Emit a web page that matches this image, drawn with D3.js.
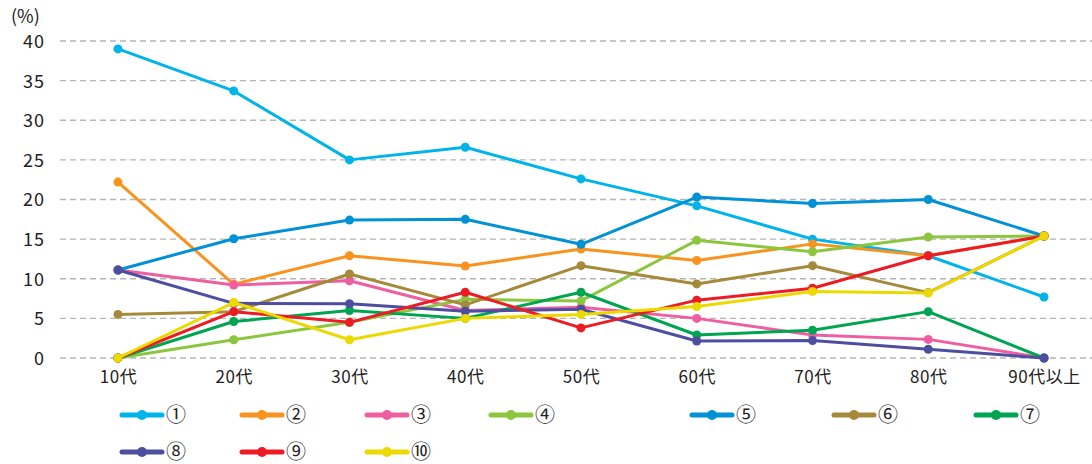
<!DOCTYPE html>
<html>
<head>
<meta charset="utf-8">
<script src="https://cdn.jsdelivr.net/npm/d3@7"></script>
<style>
  body { margin: 0; background: #fff; }
  svg text { font-family: "Noto Sans CJK JP", "Noto Sans", sans-serif; fill: #222; }
</style>
</head>
<body>
<div id="chart"></div>
<script>
// categories and values
const ages = ["10代", "20代", "30代", "40代", "50代", "60代", "70代", "80代", "90代以上"];
const yTicks = [0, 5, 10, 15, 20, 25, 30, 35, 40];
const seriesNames = ["①", "②", "③", "④", "⑤", "⑥", "⑦", "⑧", "⑨", "⑩"];
const seriesColors = ["#00b4ea", "#f7931e", "#ef5ea0", "#8cc63f", "#0091d6", "#a6893a", "#00a551", "#4d4e9f", "#ed1c24", "#ecd900"];

const s1 = [39.0, 33.7, 25.0, 26.6, 22.6, 19.2, 15.0, 12.9, 7.7];
const s2 = [22.2, 9.3, 12.9, 11.6, 13.75, 12.3, 14.4, 12.9, 15.4];
const s3 = [11.1, 9.2, 9.75, 6.0, 6.4, 5.0, 2.9, 2.35, 0];
const s4 = [0, 2.3, 4.5, 7.4, 7.2, 14.85, 13.4, 15.27, 15.4];
const s5 = [11.1, 15.05, 17.4, 17.5, 14.35, 20.3, 19.5, 20.0, 15.4];
const s6 = [5.5, 5.85, 10.6, 6.7, 11.65, 9.35, 11.65, 8.25, 15.4];
const s7 = [0, 4.6, 6.0, 5.0, 8.3, 2.9, 3.5, 5.85, 0];
const s8 = [11.1, 6.9, 6.85, 5.9, 6.15, 2.15, 2.2, 1.1, 0];
const s9 = [0, 5.85, 4.5, 8.3, 3.8, 7.3, 8.8, 12.9, 15.4];
const s10 = [0, 7.0, 2.3, 5.0, 5.5, 6.5, 8.4, 8.2, 15.4];
const seriesValues = [s1, s2, s3, s4, s5, s6, s7, s8, s9, s10];

const width = 1092, height = 464;
const svg = d3.select("#chart").append("svg")
  .attr("width", width)
  .attr("height", height);

const xScale = d3.scalePoint().domain(ages).range([118, 1044]);
const yScale = d3.scaleLinear().domain([0, 40]).range([358, 41]);

// grid
svg.append("g").selectAll("line")
  .data(yTicks)
  .enter().append("line")
  .attr("x1", 60).attr("x2", width)
  .attr("y1", d => yScale(d)).attr("y2", d => yScale(d))
  .attr("stroke", "#b5b5b5")
  .attr("stroke-width", 1.3)
  .attr("stroke-dasharray", "6,4");

// y axis labels
const yAxis = d3.axisLeft(yScale).tickValues(yTicks).tickSize(0).tickPadding(0);
const gy = svg.append("g").attr("transform", "translate(45,0)").call(yAxis);
gy.select(".domain").remove();
gy.selectAll("text")
  .style("font-size", "18px")
  .style("letter-spacing", "1px")
  .attr("fill", "#222")
  .attr("dy", "0.36em");

svg.append("text").attr("x", 11).attr("y", 23).style("font-size", "18px").text("(%)");

// x axis labels
const xAxis = d3.axisBottom(xScale).tickSize(0).tickPadding(0);
const gx = svg.append("g").attr("transform", "translate(0,371)").call(xAxis);
gx.select(".domain").remove();
gx.selectAll("text")
  .style("font-size", "17px")
  .style("letter-spacing", "0.5px")
  .attr("fill", "#222");

// lines
const line = d3.line().x((d, i) => xScale(ages[i])).y(d => yScale(d));
seriesValues.forEach((vals, k) => {
  const g = svg.append("g");
  g.append("path")
    .datum(vals)
    .attr("d", line)
    .attr("fill", "none")
    .attr("stroke", seriesColors[k])
    .attr("stroke-width", 3)
    .attr("stroke-linejoin", "round");
  g.selectAll("circle")
    .data(vals)
    .enter().append("circle")
    .attr("cx", (d, i) => xScale(ages[i]))
    .attr("cy", d => yScale(d))
    .attr("r", 4.5)
    .attr("fill", seriesColors[k]);
});

// legend
const legendX = [122, 242, 367, 491, 692, 834, 976];
const legend = svg.append("g");
seriesNames.forEach((name, k) => {
  const x = legendX[k % 7];
  const y = k < 7 ? 415 : 452;
  const item = legend.append("g").attr("transform", `translate(${x},${y})`);
  item.append("line")
    .attr("x1", 0).attr("x2", 40)
    .attr("stroke", seriesColors[k])
    .attr("stroke-width", 5)
    .attr("stroke-linecap", "round");
  item.append("circle").attr("cx", 20).attr("r", 5).attr("fill", seriesColors[k]);
  item.append("text")
    .attr("x", 44).attr("dy", "0.36em")
    .style("font-size", "20px")
    .text(name);
});
</script>
</body>
</html>
